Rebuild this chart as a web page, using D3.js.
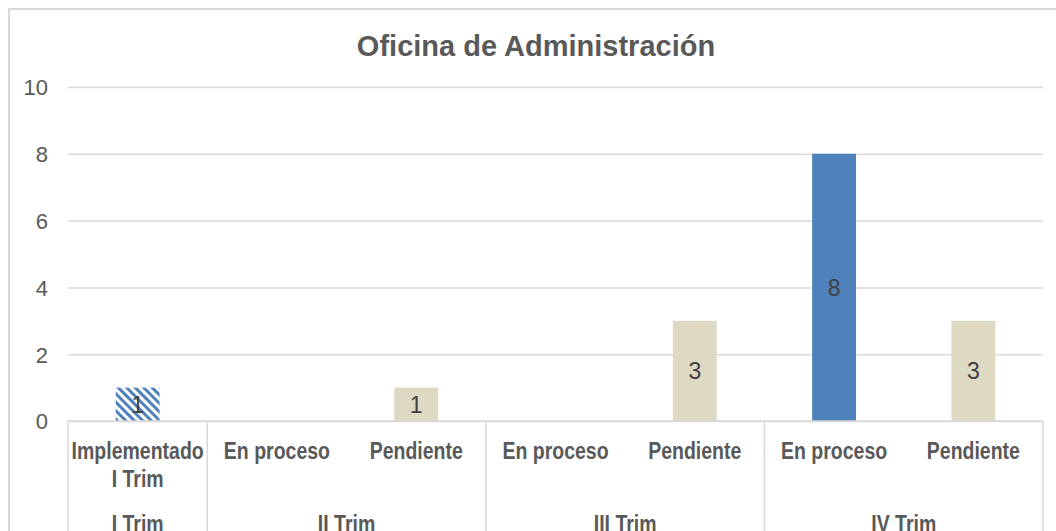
<!DOCTYPE html>
<html>
<head>
<meta charset="utf-8">
<script src="https://cdn.jsdelivr.net/npm/d3@7"></script>
<style>
  body { margin: 0; background: #fff; }
  text { font-family: 'Liberation Sans', Arial, sans-serif; }
</style>
</head>
<body>
<div id="chart"></div>
<script>
const title = 'Oficina de Administración';
const groups = ['I Trim', 'II Trim', 'III Trim', 'IV Trim'];
const categories = ['Implementado|I Trim', 'En proceso', 'Pendiente', 'En proceso', 'Pendiente', 'En proceso', 'Pendiente'];
const catGroup = [0, 1, 1, 2, 2, 3, 3];
const catType = ['impl', 'proc', 'pend', 'proc', 'pend', 'proc', 'pend'];
const values = [1, null, 1, null, 3, 8, 3];
const yTicks = [0, 2, 4, 6, 8, 10];

const width = 1056;
const height = 531;
const margin = { top: 87, right: 13, bottom: 110, left: 68 };
const usableArea = {
    top: margin.top,
    right: width - margin.right,
    bottom: height - margin.bottom,
    left: margin.left,
};

const svg = d3.select('#chart').append('svg')
    .attr('width', width).attr('height', height);

// hatch pattern for "Implementado"
const defs = svg.append('defs');
const pat = defs.append('pattern').attr('id', 'hatch')
    .attr('patternUnits', 'userSpaceOnUse').attr('width', 6).attr('height', 6)
    .attr('patternTransform', 'rotate(-45)');
pat.append('rect').attr('width', 6).attr('height', 6).attr('fill', '#fff');
pat.append('rect').attr('x', 0).attr('width', 3).attr('height', 6).attr('fill', '#4f81bd');

// chart border
svg.append('rect').attr('x', 9).attr('y', 9).attr('width', width).attr('height', height)
    .attr('fill', 'none').attr('stroke', '#d9d9d9').attr('stroke-width', 2);

svg.append('text').attr('x', 536).attr('y', 56).attr('text-anchor', 'middle')
    .attr('font-size', 29).attr('font-weight', 'bold').attr('fill', '#595959').text(title);

const xScale = d3.scaleBand().domain(d3.range(categories.length))
    .range([usableArea.left, usableArea.right])
    .paddingInner(0.685).paddingOuter(0.3425);
const yScale = d3.scaleLinear().domain([0, 10]).range([usableArea.bottom, usableArea.top]);

// gridlines
const gridlines = svg.append('g').attr('transform', `translate(${usableArea.left}, 0)`);
gridlines.call(d3.axisLeft(yScale).tickValues(yTicks).tickFormat('').tickSize(-(usableArea.right - usableArea.left)))
    .call(g => g.select('.domain').remove())
    .selectAll('line').attr('stroke', '#d9d9d9').attr('stroke-width', 1.5);

// y labels
svg.append('g').attr('transform', `translate(${usableArea.left}, 0)`)
    .call(d3.axisLeft(yScale).tickValues(yTicks).tickSize(0).tickPadding(20))
    .call(g => g.select('.domain').remove())
    .selectAll('text').attr('font-size', 22).attr('fill', '#595959').attr('dy', '0.36em')
    .attr('font-family', "'Liberation Sans', Arial, sans-serif");

const colorOf = { impl: 'url(#hatch)', proc: '#4f81bd', pend: '#ddd9c3' };

const bars = svg.append('g');
bars.selectAll('rect').data(values.map((v, i) => ({ v, i })).filter(d => d.v != null))
    .join('rect')
    .attr('x', d => xScale(d.i)).attr('width', xScale.bandwidth())
    .attr('y', d => yScale(d.v)).attr('height', d => yScale(0) - yScale(d.v))
    .attr('fill', d => colorOf[catType[d.i]]);

bars.selectAll('text').data(values.map((v, i) => ({ v, i })).filter(d => d.v != null))
    .join('text')
    .attr('x', d => xScale(d.i) + xScale.bandwidth() / 2)
    .attr('y', d => (yScale(d.v) + yScale(0)) / 2 + 8.5)
    .attr('text-anchor', 'middle').attr('font-size', 23).attr('fill', '#404040')
    .text(d => d.v);

// category axis: bottom line + separators
const step = xScale.step();
const axisG = svg.append('g').attr('stroke', '#d9d9d9').attr('stroke-width', 1.5);
axisG.append('line').attr('x1', usableArea.left).attr('x2', usableArea.right)
    .attr('y1', yScale(0)).attr('y2', yScale(0));
const seps = [0];
catGroup.forEach((g, i) => { if (i > 0 && g !== catGroup[i - 1]) seps.push(i); });
seps.push(categories.length);
axisG.selectAll('line.sep').data(seps).join('line').attr('class', 'sep')
    .attr('x1', i => usableArea.left + i * step).attr('x2', i => usableArea.left + i * step)
    .attr('y1', yScale(0)).attr('y2', height);

// labels are drawn slightly stretched vertically, as in the source picture
const catLabels = svg.append('g');
categories.forEach((c, i) => {
    const cx = xScale(i) + xScale.bandwidth() / 2;
    c.split('|').forEach((line, k) => {
        catLabels.append('text')
            .attr('transform', `translate(${cx},${459 + k * 28}) scale(1,1.18)`)
            .attr('text-anchor', 'middle').attr('font-size', 19.5).attr('font-weight', 'bold')
            .attr('fill', '#595959').text(line);
    });
});

groups.forEach((g, gi) => {
    const idx = d3.range(categories.length).filter(i => catGroup[i] === gi);
    const x0 = usableArea.left + idx[0] * step;
    const x1 = usableArea.left + (idx[idx.length - 1] + 1) * step;
    svg.append('text')
        .attr('transform', `translate(${(x0 + x1) / 2},532) scale(1,1.18)`)
        .attr('text-anchor', 'middle').attr('font-size', 19.5).attr('font-weight', 'bold')
        .attr('fill', '#595959').text(g);
});
</script>
</body>
</html>
